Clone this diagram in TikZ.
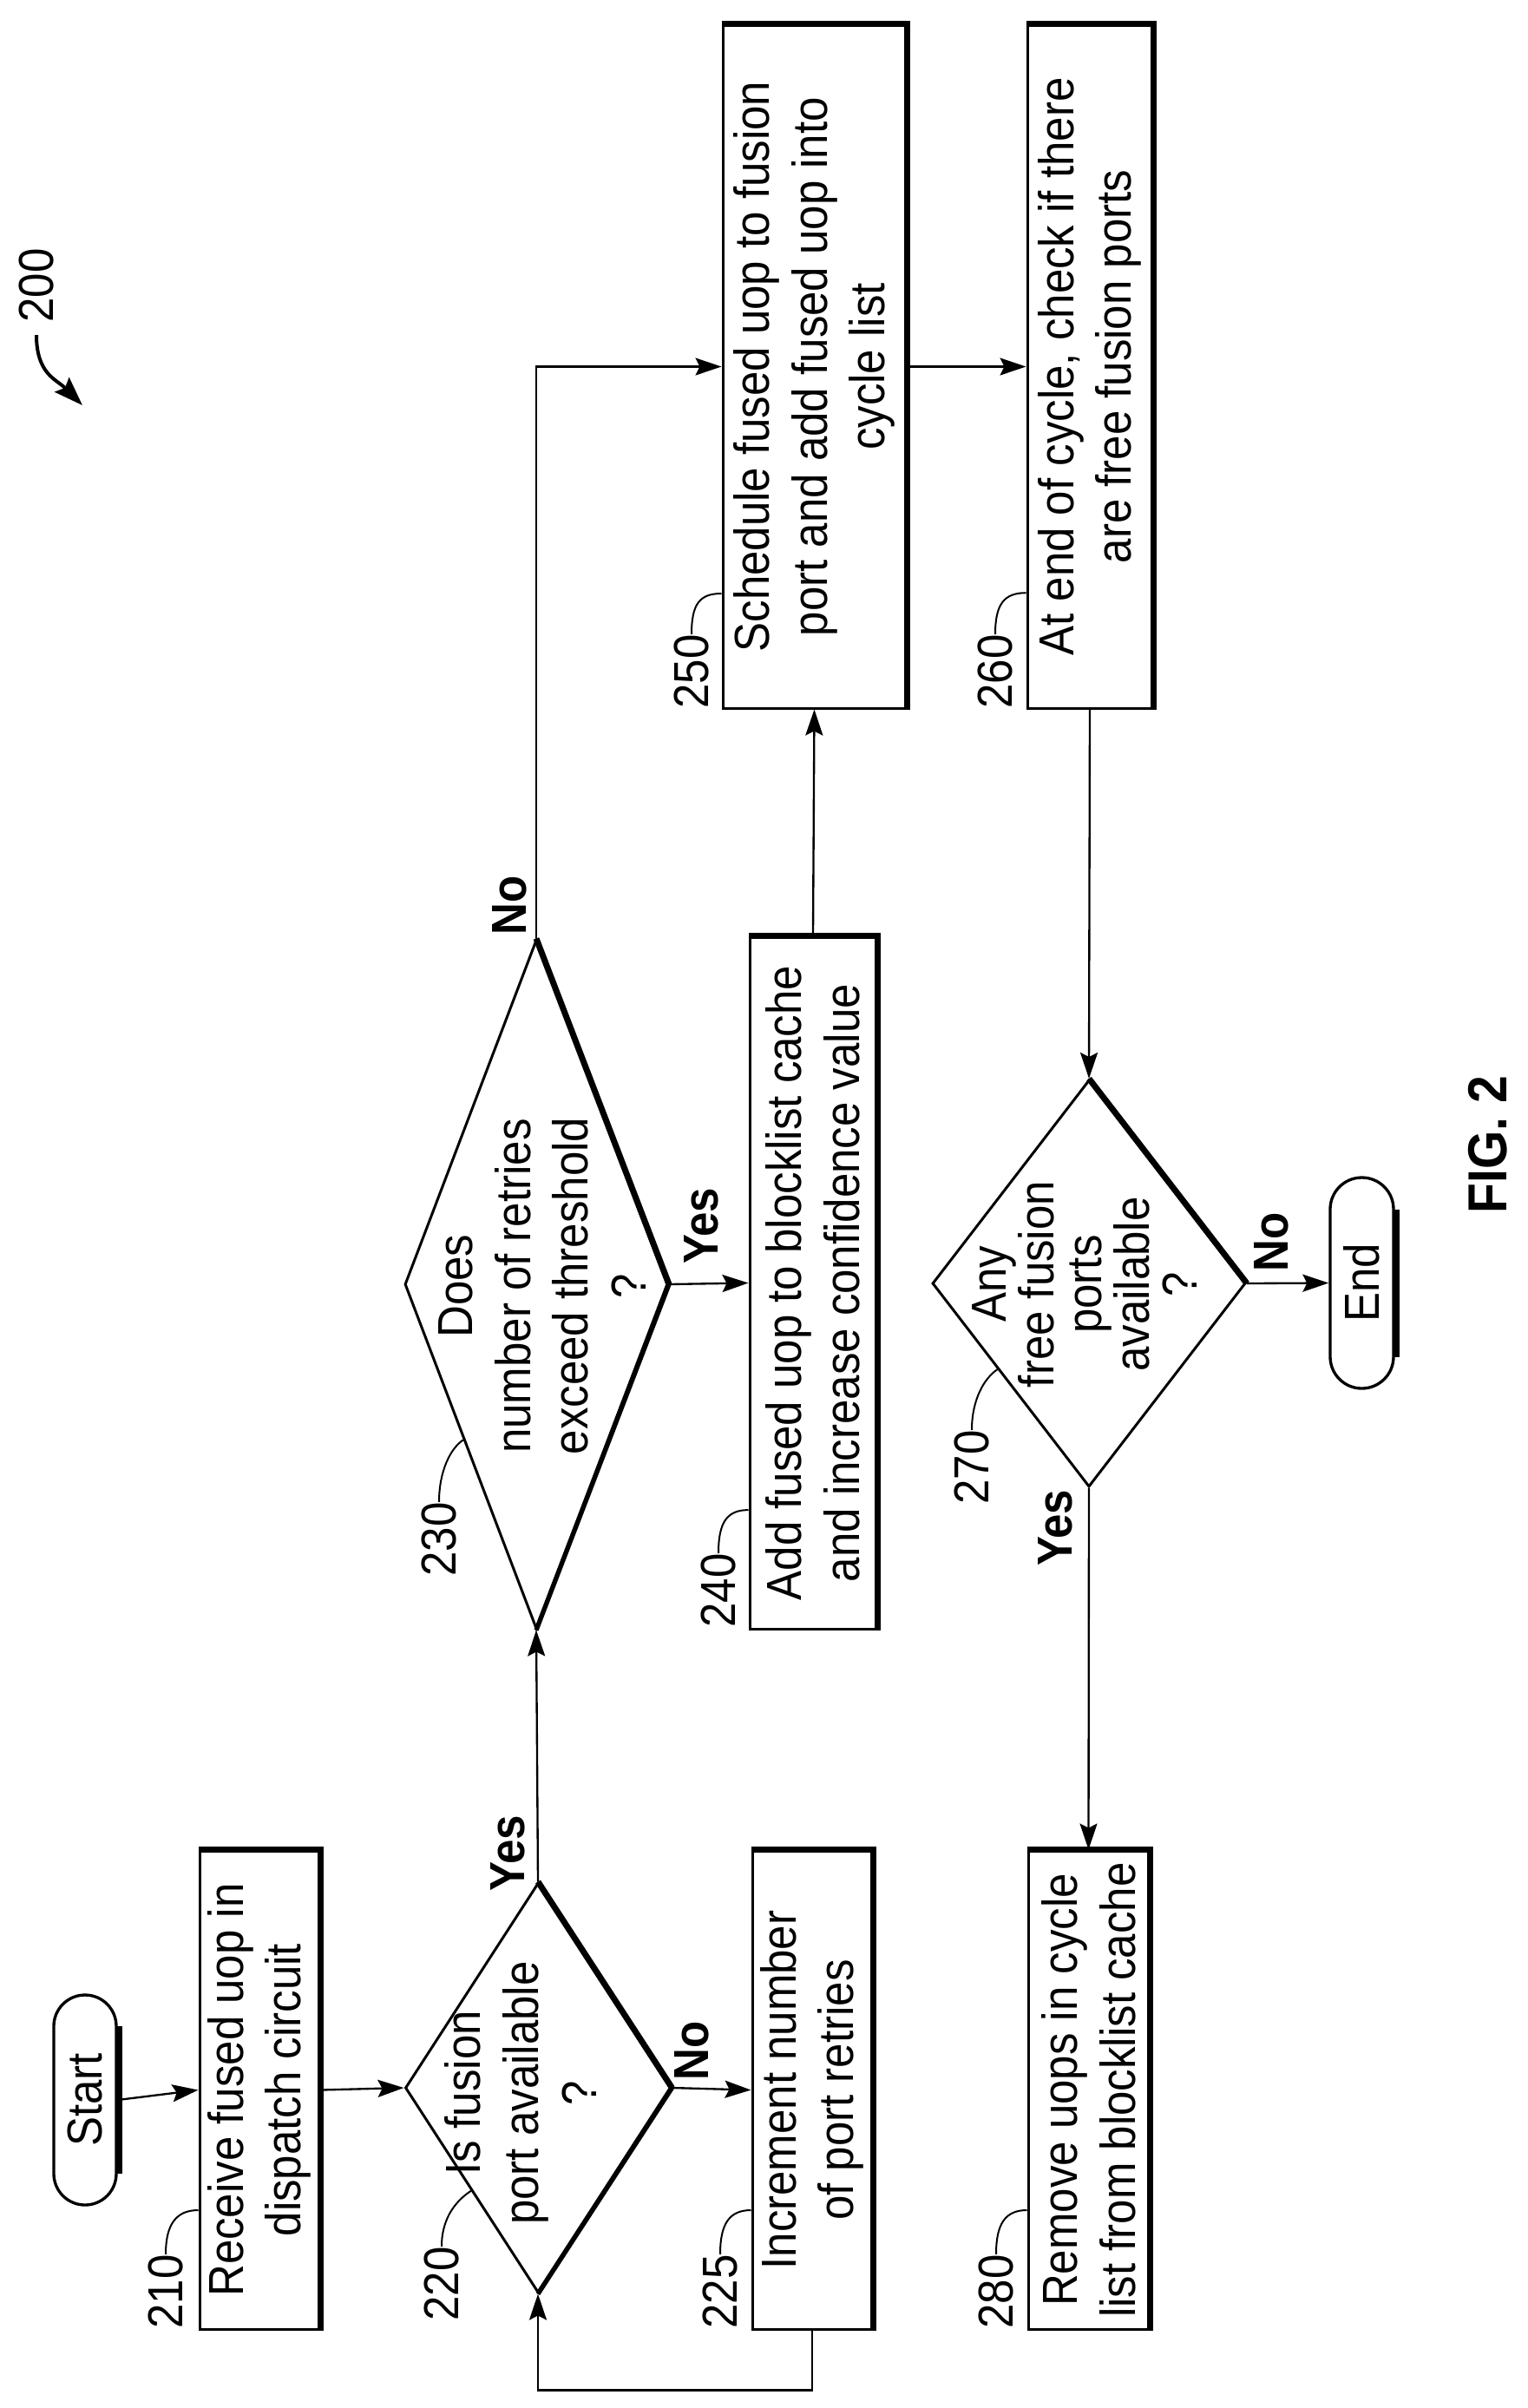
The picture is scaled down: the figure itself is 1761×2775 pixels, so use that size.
\documentclass[tikz,border=0pt]{standalone}
\usepackage{fontspec}
\setmainfont{Liberation Sans}[FakeStretch=0.9]
\usetikzlibrary{arrows.meta,calc,shapes.geometric,shapes.misc}
\begin{document}
\begin{tikzpicture}[x=0.3pt,y=-0.3pt,
  txt/.style={font=\fontsize{17}{20}\selectfont, align=center},
  sz/.style 2 args={minimum width=#1*0.3pt, minimum height=#2*0.3pt},
  box/.style={draw, line width=0.9pt, rotate=90, inner sep=0pt, txt, fill=white},
  pill/.style={draw, line width=1pt, rotate=90, inner sep=0pt, txt, rounded rectangle},
  dia/.style={draw, line width=0.9pt, rotate=90, inner sep=0pt, diamond},
  dtxt/.style={rotate=90, inner sep=0pt, txt},
  shd/.style={line width=2.1pt},
  mid/.style={line width=1.6pt},
  lab/.style={rotate=90, inner sep=0pt, font=\fontsize{17}{20}\selectfont},
  yn/.style={rotate=90, inner sep=0pt, font=\bfseries\fontsize{17}{20}\selectfont},
  arr/.style={line width=0.7pt, -{Stealth[length=9pt,width=6pt,inset=1.5pt]}},
  ln/.style={line width=0.7pt},
  lead/.style={line width=0.6pt}]
\useasboundingbox (0,0) rectangle (1761,2775);

% terminals
\node[pill, sz={242}{72}] (start) at (98,2420) {Start};
\node[pill, sz={243}{73}] (end) at (1569.5,1478.5) {End};
\draw[shd] ([xshift=0.6pt]start.south east) -- ([xshift=0.6pt]start.south west);
\draw[shd] ([xshift=0.6pt]end.south east) -- ([xshift=0.6pt]end.south west);

% boxes
\node[box, sz={551}{138}] (b210) at (299,2408.5) {Receive fused uop in\\dispatch circuit};
\node[box, sz={551}{138}] (b225) at (936,2408.5) {Increment number\\of port retries};
\node[box, sz={551}{139}] (b280) at (1254.5,2408.5) {Remove uops in cycle\\list from blocklist cache};
\node[box, sz={797}{146}] (b240) at (937,1478.5) {Add fused uop to blocklist cache\\and increase confidence value};
\node[box, sz={787}{211}] (b250) at (938.5,422.5) {Schedule fused uop to fusion\\port and add fused uop into\\cycle list};
\node[box, sz={787}{144}] (b260) at (1256,422.5) {At end of cycle, check if there\\are free fusion ports};
\foreach \b in {b210,b225,b280,b240,b250,b260}
  \draw[shd] (\b.north east) -- (\b.south east) -- (\b.south west);

% diamonds
\node[dia, sz={472}{306}] (d220) at (620,2406) {};
\node[dia, sz={794}{303}] (d230) at (618,1480) {};
\node[dia, sz={469}{361}] (d270) at (1255,1479) {};
\draw[shd] (d220.east) -- (d220.south);
\draw[mid] (d220.south) -- (d220.west);
\draw[shd] (d230.east) -- (d230.south);
\draw[mid] (d230.south) -- (d230.west);
\draw[shd] (d270.east) -- (d270.south);
\node[dtxt] (t220) at (600,2412) {Is fusion\\port available\\?};
\node[dtxt] (t230) at (625,1482) {Does\\number of retries\\exceed threshold\\?};
\node[dtxt, font=\fontsize{17}{16.5}\selectfont] (t270) at (1250,1480) {Any\\free fusion\\ports\\available\\?};

% connectors
\draw[arr] (start.south) -- (b210.north);
\draw[arr] (b210.south) -- (d220.north);
\draw[arr] (d220.south) -- (b225.north);
\draw[arr] (b225.west) -- ++(0,69) -| (d220.west);
\draw[arr] (d220.east) -- (d230.west);
\draw[arr] (d230.south) -- (b240.north);
\draw[arr] (d230.east) |- (b250.north);
\draw[arr] (b240.east) -- (b250.west);
\draw[arr] (b250.south) -- (b260.north);
\draw[arr] (b260.west) -- (d270.east);
\draw[arr] (d270.south) -- (end.north);
\draw[arr] (d270.west) -- (b280.east);

% branch labels
\node[yn] (y220) at (585,2136) {Yes};
\node[yn] (n220) at (797,2363) {No};
\node[yn] (n230) at (587,1043) {No};
\node[yn] (y230) at (808,1413) {Yes};
\node[yn] (n270) at (1465,1431) {No};
\node[yn] (y270) at (1216,1761) {Yes};

% reference numerals
\node[lab] (l210) at (191,2641) {210};
\node[lab] (l220) at (509,2632) {220};
\node[lab] (l225) at (830,2641) {225};
\node[lab] (l280) at (1148,2641) {280};
\node[lab] (l230) at (506,1774) {230};
\node[lab] (l240) at (828,1833) {240};
\node[lab] (l250) at (797,774) {250};
\node[lab] (l260) at (1147,774) {260};
\node[lab] (l270) at (1120,1691) {270};
\draw[lead] (l210.east) .. controls +(0,-35) and +(-25,0) .. ($(b210.north west)!0.25!(b210.north east)$);
\draw[lead] (l225.east) .. controls +(0,-35) and +(-25,0) .. ($(b225.north west)!0.25!(b225.north east)$);
\draw[lead] (l280.east) .. controls +(0,-35) and +(-25,0) .. ($(b280.north west)!0.25!(b280.north east)$);
\draw[lead] (l240.east) .. controls +(0,-35) and +(-25,0) .. ($(b240.north west)!0.173!(b240.north east)$);
\draw[lead] (l250.east) .. controls +(0,-35) and +(-25,0) .. ($(b250.north west)!0.169!(b250.north east)$);
\draw[lead] (l260.east) .. controls +(0,-35) and +(-25,0) .. ($(b260.north west)!0.17!(b260.north east)$);
\draw[lead] (l220.east) .. controls +(0,-35) and +(-15,10) .. ($(d220.north)!0.5!(d220.west)$);
\draw[lead] (l230.east) .. controls +(0,-35) and +(-15,10) .. ($(d230.north)!0.45!(d230.west)$);
\draw[lead] (l270.east) .. controls +(0,-35) and +(-15,10) .. ($(d270.north)!0.42!(d270.west)$);

% figure number
\node[lab] (n200) at (42,329) {200};
\coordinate (a200) at (95,467);
\draw[line width=1.2pt, -{Stealth[length=10pt,width=7pt,inset=1.5pt]}] (n200.west) ++(0,14) .. controls +(0,45) and +(-30,-30) .. (a200);
\node[yn, font=\bfseries\fontsize{19}{22}\selectfont] (fig) at (1715,1319) {FIG. 2};
\end{tikzpicture}
\end{document}
